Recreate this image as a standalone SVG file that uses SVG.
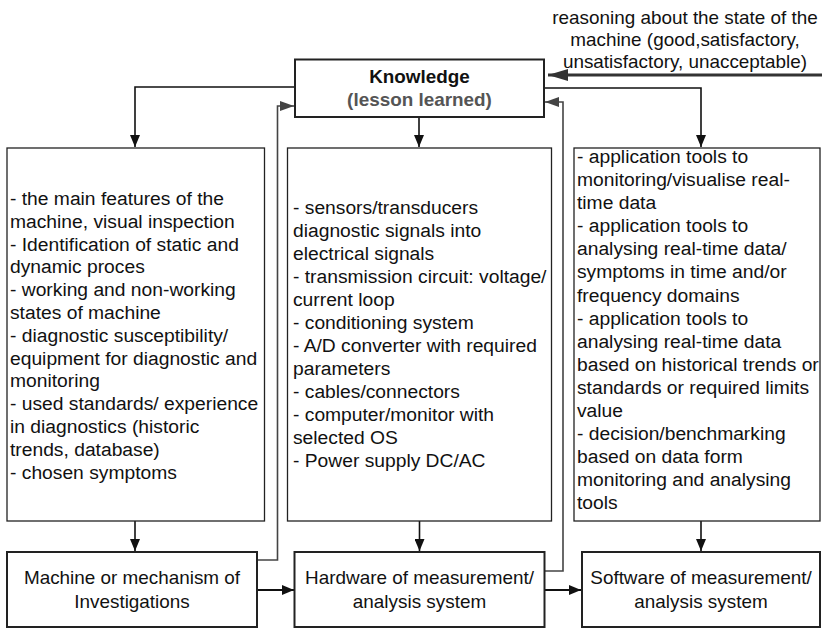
<svg xmlns="http://www.w3.org/2000/svg" width="822" height="629" viewBox="0 0 822 629">
<style>
.t{font-family:"Liberation Sans",Arial,sans-serif;font-size:18px;fill:#111}
.b{font-weight:bold}
.box{fill:#fff;stroke:#222;stroke-width:1.3}
.box2{fill:#fff;stroke:#222;stroke-width:2}
.c{fill:none;stroke:#111;stroke-width:1.6}
.fb{fill:none;stroke:#444;stroke-width:1.6}
.th{fill:none;stroke:#333;stroke-width:3}
</style>
<defs>
<marker id="ah" markerUnits="userSpaceOnUse" markerWidth="12" markerHeight="10" refX="12" refY="5" orient="auto">
<path d="M0,0 L12,5 L0,10 z" fill="#111"/>
</marker>
<marker id="ahg" markerUnits="userSpaceOnUse" markerWidth="14" markerHeight="10" refX="14" refY="5" orient="auto">
<path d="M0,0 L14,5 L0,10 z" fill="#444"/>
</marker>
<marker id="ahb" markerUnits="userSpaceOnUse" markerWidth="20" markerHeight="12" refX="20" refY="6" orient="auto">
<path d="M0,0 L20,6 L0,12 z" fill="#333"/>
</marker>
</defs>

<g id="connectors">
<path class="th" d="M822,75 H548" marker-end="url(#ahb)"/>
<path class="c" d="M295,87 H135 V147" marker-end="url(#ah)"/>
<path class="c" d="M544,88 H701 V147" marker-end="url(#ah)"/>
<path class="c" d="M419,117 V147" marker-end="url(#ah)"/>
<path class="c" d="M135,521 V551" marker-end="url(#ah)"/>
<path class="c" d="M419.5,521 V551" marker-end="url(#ah)"/>
<path class="c" d="M701,521 V551" marker-end="url(#ah)"/>
<path class="c" style="stroke-width:2" d="M257,590 H294" marker-end="url(#ah)"/>
<path class="c" style="stroke-width:2" d="M544,590 H581" marker-end="url(#ah)"/>
<path class="fb" d="M257,560 H277.5 V106 H294" marker-end="url(#ahg)"/>
<path class="fb" d="M544,571 H563 V102 H545" marker-end="url(#ahg)"/>
</g>

<g id="state-label">
<text class="t" text-anchor="middle" transform="matrix(1.05 0 0 1 685 0)"><tspan x="0" y="24">reasoning about the state of the</tspan><tspan x="0" y="46">machine (good,satisfactory,</tspan><tspan x="0" y="68">unsatisfactory, unacceptable)</tspan></text>
</g>

<g id="knowledge">
<rect class="box2" x="295" y="59.5" width="249" height="57.5"/>
<text class="t b" text-anchor="middle" transform="matrix(1.05 0 0 1 419.5 0)"><tspan x="0" y="83">Knowledge</tspan><tspan x="0" y="106" style="fill:#555">(lesson learned)</tspan></text>
</g>

<g id="machine-features">
<rect class="box" x="7" y="148" width="257.5" height="373"/>
<text class="t" transform="matrix(1.07 0 0 1 10 0)"><tspan x="0" y="205">- the main features of the</tspan><tspan x="0" y="227.8">machine, visual inspection</tspan><tspan x="0" y="250.6">- Identification of static and</tspan><tspan x="0" y="273.4">dynamic proces</tspan><tspan x="0" y="296.2">- working and non-working</tspan><tspan x="0" y="319">states of machine</tspan><tspan x="0" y="341.8">- diagnostic susceptibility/</tspan><tspan x="0" y="364.6">equipment for diagnostic and</tspan><tspan x="0" y="387.4">monitoring</tspan><tspan x="0" y="410.2">- used standards/ experience</tspan><tspan x="0" y="433">in diagnostics (historic</tspan><tspan x="0" y="455.8">trends, database)</tspan><tspan x="0" y="478.6">- chosen symptoms</tspan></text>
</g>

<g id="hardware-features">
<rect class="box" x="287.5" y="148" width="264" height="373"/>
<text class="t" transform="matrix(1.07 0 0 1 293 0)"><tspan x="0" y="214">- sensors/transducers</tspan><tspan x="0" y="237">diagnostic signals into</tspan><tspan x="0" y="260">electrical signals</tspan><tspan x="0" y="283">- transmission circuit: voltage/</tspan><tspan x="0" y="306">current loop</tspan><tspan x="0" y="329">- conditioning system</tspan><tspan x="0" y="352">- A/D converter with required</tspan><tspan x="0" y="375">parameters</tspan><tspan x="0" y="398">- cables/connectors</tspan><tspan x="0" y="421">- computer/monitor with</tspan><tspan x="0" y="444">selected OS</tspan><tspan x="0" y="467">- Power supply DC/AC</tspan></text>
</g>

<g id="software-features">
<rect class="box" x="574" y="148" width="246" height="373"/>
<text class="t" transform="matrix(1.07 0 0 1 577 0)"><tspan x="0" y="163">- application tools to</tspan><tspan x="0" y="186.1">monitoring/visualise real-</tspan><tspan x="0" y="209.2">time data</tspan><tspan x="0" y="232.3">- application tools to</tspan><tspan x="0" y="255.4">analysing real-time data/</tspan><tspan x="0" y="278.5">symptoms in time and/or</tspan><tspan x="0" y="301.6">frequency domains</tspan><tspan x="0" y="324.7">- application tools to</tspan><tspan x="0" y="347.8">analysing real-time data</tspan><tspan x="0" y="370.9">based on historical trends or</tspan><tspan x="0" y="394">standards or required limits</tspan><tspan x="0" y="417.1">value</tspan><tspan x="0" y="440.2">- decision/benchmarking</tspan><tspan x="0" y="463.3">based on data form</tspan><tspan x="0" y="486.4">monitoring and analysing</tspan><tspan x="0" y="509.5">tools</tspan></text>
</g>

<g id="machine">
<rect class="box2" x="7" y="552" width="250" height="75"/>
<text class="t" text-anchor="middle" transform="matrix(1.05 0 0 1 132 0)"><tspan x="0" y="584.5">Machine or mechanism of</tspan><tspan x="0" y="608">Investigations</tspan></text>
</g>

<g id="hardware">
<rect class="box2" x="294.5" y="552" width="250" height="75"/>
<text class="t" text-anchor="middle" transform="matrix(1.05 0 0 1 419.5 0)"><tspan x="0" y="584.5">Hardware of measurement/</tspan><tspan x="0" y="608">analysis system</tspan></text>
</g>

<g id="software">
<rect class="box2" x="582" y="552" width="238" height="75"/>
<text class="t" text-anchor="middle" transform="matrix(1.05 0 0 1 701 0)"><tspan x="0" y="584.5">Software of measurement/</tspan><tspan x="0" y="608">analysis system</tspan></text>
</g>
</svg>
